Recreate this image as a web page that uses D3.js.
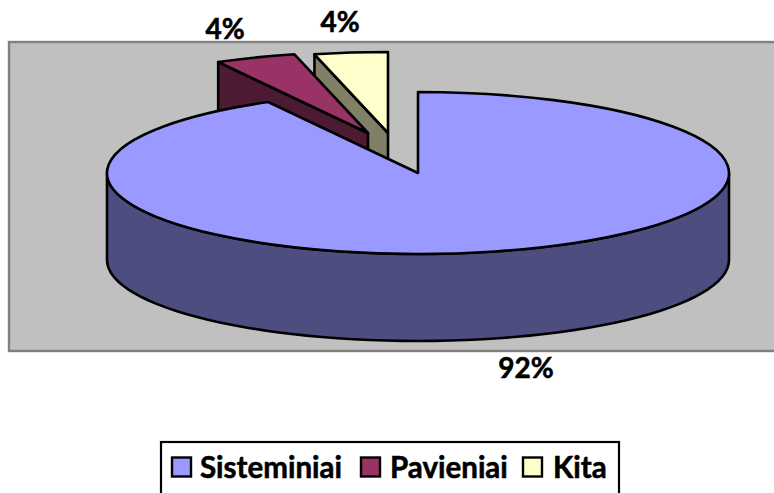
<!DOCTYPE html>
<html>
<head>
<meta charset="utf-8">
<script src="https://d3js.org/d3.v7.min.js"></script>
<style>
  html, body { margin: 0; padding: 0; background: #fff; overflow: hidden; }
  text { font-family: Lato, "Open Sans", sans-serif; font-weight: 700; fill: #000; stroke: #000; stroke-width: 0.55; }
  .edge { stroke: #000; stroke-width: 2.6; stroke-linejoin: round; vector-effect: non-scaling-stroke; }
</style>
</head>
<body>
<div id="chart"></div>
<script>
//-- Data --//
var categories = ["Sisteminiai", "Pavieniai", "Kita"],
    values = [92, 4.2, 3.8],
    valueLabels = ["92%", "4%", "4%"],
    topColors = ["#9999ff", "#993366", "#ffffcc"],
    wallColors = ["#4d4d80", "#4d1a33", "#808066"];

//-- Layout --//
var width = 774, height = 493;
var cx = 418, cy = 173, rx = 311, ry = 81, depth = 87;
// pulled out slices, offset from the pie centre
var offsets = [[0, 0], [-50, -40], [-30, -40]];
var labelPos = [[526, 378], [225, 39], [340, 32]];

var svg = d3.select("#chart").append("svg")
  .attr("width", width)
  .attr("height", height)
  .style("display", "block");

//-- Plot area --//
svg.append("rect")
  .attr("x", 9).attr("y", 42)
  .attr("width", width + 10).attr("height", 309)
  .attr("fill", "#c0c0c0")
  .attr("stroke", "#808080")
  .attr("stroke-width", 2.4);

//-- Pie --//
var slices = d3.pie().sort(null)(values);
var arc = d3.arc().innerRadius(0).outerRadius(rx);
var yRatio = ry / rx;

function rim(angle) {
  return [rx * Math.sin(angle), -ry * Math.cos(angle)];
}

// back slices first, the big one goes on top
[2, 1, 0].forEach(function(i) {
  var s = slices[i],
      g = svg.append("g")
        .attr("transform", "translate(" + (cx + offsets[i][0]) + "," + (cy + offsets[i][1]) + ")");

  if (i === 0) {
    // front wall of the big slice
    var angles = d3.range(90, 271, 3).map(function(d) { return d * Math.PI / 180; });
    var front = angles.map(rim);
    var wall = front.concat(front.slice().reverse().map(function(p) { return [p[0], p[1] + depth]; }));
    g.append("path")
      .attr("class", "edge")
      .attr("d", d3.line()(wall) + "Z")
      .attr("fill", wallColors[i]);
  } else {
    // cut face on the left of the small slices
    var p = rim(s.startAngle);
    var face = [[0, 0], p, [p[0], p[1] + depth], [0, depth]];
    g.append("path")
      .attr("class", "edge")
      .attr("d", d3.line()(face) + "Z")
      .attr("fill", wallColors[i]);
  }

  g.append("path")
    .attr("class", "edge")
    .attr("transform", "scale(1," + yRatio + ")")
    .attr("d", arc(s))
    .attr("fill", topColors[i]);
});

//-- Value labels --//
svg.selectAll(".value")
  .data(valueLabels)
  .enter().append("text")
  .attr("class", "value")
  .attr("x", function(d, i) { return labelPos[i][0]; })
  .attr("y", function(d, i) { return labelPos[i][1]; })
  .attr("text-anchor", "middle")
  .attr("font-size", 28)
  .text(function(d) { return d; });

//-- Legend --//
var legendBox = [161, 442, 458, 60];
svg.append("rect")
  .attr("x", legendBox[0]).attr("y", legendBox[1])
  .attr("width", legendBox[2]).attr("height", legendBox[3])
  .attr("fill", "#fff")
  .attr("stroke", "#000")
  .attr("stroke-width", 2.2);

var keyX = [172, 361, 523], textX = [200, 390, 553];
var legend = svg.selectAll(".key")
  .data(categories)
  .enter().append("g")
  .attr("class", "key");

legend.append("rect")
  .attr("x", function(d, i) { return keyX[i]; })
  .attr("y", 457.5)
  .attr("width", 19).attr("height", 19)
  .attr("fill", function(d, i) { return topColors[i]; })
  .attr("stroke", "#000")
  .attr("stroke-width", 2.4);

legend.append("text")
  .attr("x", function(d, i) { return textX[i]; })
  .attr("y", 478)
  .attr("font-size", 29.5)
  .text(function(d) { return d; });
</script>
</body>
</html>
